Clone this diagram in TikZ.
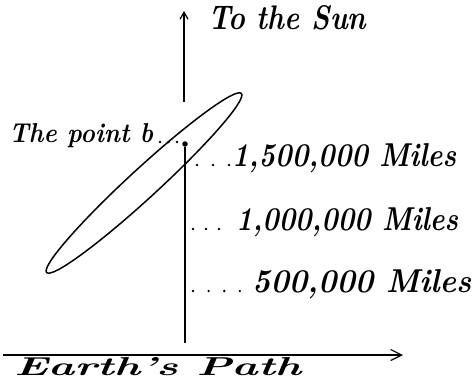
\documentclass[tikz,border=0pt]{standalone}
\usetikzlibrary{arrows.meta}
\begin{document}
\begin{tikzpicture}[x=1pt,y=1pt,
  axis/.style={line width=1.2pt},
  curve/.style={line width=1.5pt},
  leader/.style={line width=2.6pt, line cap=round},
  lbl/.style={inner sep=0pt, anchor=base west}]
\useasboundingbox (0,0) rectangle (474,381);
\newcommand\fitlbl[3]{\resizebox{#1pt}{#2pt}{\bfseries\itshape #3}}
% coordinates
\coordinate (uplow) at (184,279);
\coordinate (uptop) at (184,370);
\node[circle, fill, inner sep=0pt, minimum size=5.5pt] (b) at (185,237) {};
\coordinate (vbot) at (185,38);
\coordinate (hl) at (3,26);
\coordinate (hr) at (403,26);
% axes
\draw[axis, -{Straight Barb[length=7pt,width=8pt]}] (uplow) -- (uptop);
\draw[axis] (b) -- (vbot);
\draw[axis, -{Straight Barb[length=11pt,width=11pt]}] (hl) -- (hr);
% ellipse
\draw[curve, rotate around={42.6:(144,198)}] (144,198) ellipse [x radius=132.3, y radius=14.7];
% labels
\node[lbl] (sun) at (208,352) {\fitlbl{158}{24}{To the Sun}};
\node[lbl] (pb) at (9,239) {\fitlbl{144}{19}{The point b}};
\node[lbl] (m15) at (232,215) {\fitlbl{224}{23}{1,500,000 Miles}};
\node[lbl] (m10) at (236,151) {\fitlbl{222}{23}{1,000,000 Miles}};
\node[lbl] (m05) at (252,89) {\fitlbl{219}{23}{500,000 Miles}};
\node[lbl] (ep) at (14,6) {\fitlbl{287}{18}{Earth's Path}};
% leaders
\coordinate (d0a) at (160,239); \coordinate (d0b) at (178,239);
\coordinate (d1a) at (197,216); \coordinate (d1b) at (229,216);
\coordinate (d2a) at (193,152); \coordinate (d2b) at (232,152);
\coordinate (d3a) at (193,90);  \coordinate (d3b) at (240,90);
\draw[leader, dash pattern=on 0pt off 8.5pt] (d0a) -- (d0b);
\draw[leader, dash pattern=on 0pt off 16pt] (d1a) -- (d1b);
\draw[leader, dash pattern=on 0pt off 13pt] (d2a) -- (d2b);
\draw[leader, dash pattern=on 0pt off 15.6pt] (d3a) -- (d3b);
\end{tikzpicture}
\end{document}
